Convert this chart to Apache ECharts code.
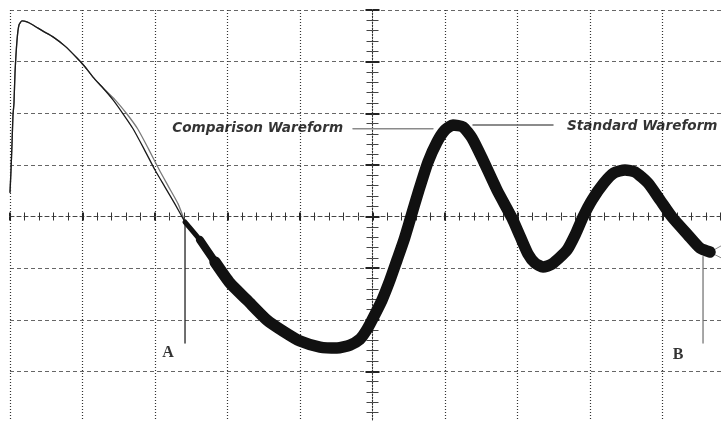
<!DOCTYPE html>
<html><head><meta charset="utf-8">
<script src="https://cdn.jsdelivr.net/npm/echarts@6/dist/echarts.min.js"></script>
<style>html,body{margin:0;padding:0;background:#fff}#c{width:721px;height:421px}</style>
</head><body><div id="c"></div>
<script>
// Oscilloscope waveforms, x in divisions from screen centre, y in divisions
const standardLead = [
  [-5.000,0.47],[-4.986,0.90],[-4.972,1.42],[-4.959,1.96],[-4.945,2.20],[-4.931,2.78],
  [-4.903,3.42],[-4.876,3.71],[-4.834,3.79],[-4.766,3.77],[-4.683,3.71],[-4.545,3.59],
  [-4.407,3.48],[-4.241,3.30],[-4.076,3.07],[-3.966,2.90],[-3.855,2.70],[-3.717,2.49],
  [-3.579,2.26],[-3.441,1.99],[-3.303,1.70],[-3.152,1.31],[-3.000,0.90],[-2.862,0.57],
  [-2.724,0.24],[-2.586,-0.11]
];
const comparisonLead = [
  [-5.000,0.47],[-4.986,0.90],[-4.972,1.42],[-4.959,1.96],[-4.945,2.20],[-4.931,2.78],
  [-4.903,3.42],[-4.876,3.71],[-4.834,3.79],[-4.766,3.77],[-4.683,3.71],[-4.545,3.59],
  [-4.407,3.48],[-4.241,3.30],[-4.076,3.07],[-3.966,2.90],[-3.855,2.70],[-3.717,2.49],
  [-3.550,2.26],[-3.390,1.99],[-3.240,1.70],[-3.090,1.31],[-2.940,0.90],[-2.810,0.57],
  [-2.680,0.24],[-2.586,-0.11]
];
const bandNarrow = [[-2.586,-0.107],[-2.379,-0.455],[-2.172,-0.882]];
const bandMid = [[-2.379,-0.455],[-2.172,-0.882],[-1.966,-1.289],[-1.731,-1.618]];
const bandMain = [
  [-2.172,-0.882],[-1.966,-1.289],[-1.731,-1.618],[-1.455,-2.006],[-1.234,-2.219],
  [-1.000,-2.413],[-0.724,-2.529],[-0.490,-2.548],[-0.310,-2.490],[-0.172,-2.374],
  [-0.090,-2.219],[-0.007,-2.006],[0.131,-1.618],[0.241,-1.231],[0.338,-0.843],
  [0.434,-0.455],[0.517,-0.068],[0.641,0.514],[0.766,1.056],[0.890,1.444],
  [1.000,1.676],[1.110,1.773],[1.248,1.734],[1.372,1.521],[1.524,1.095],
  [1.717,0.514],[1.924,-0.029],[2.034,-0.378],[2.145,-0.727],[2.241,-0.901],
  [2.352,-0.979],[2.476,-0.921],[2.683,-0.649],[2.807,-0.320],[2.903,-0.010],
  [3.028,0.320],[3.193,0.649],[3.331,0.843],[3.483,0.901],[3.621,0.862],
  [3.800,0.649],[3.966,0.320],[4.131,-0.010],[4.352,-0.359],[4.517,-0.610],[4.655,-0.688]
];
const tailUpper = [[4.655,-0.69],[4.807,-0.57]];
const tailLower = [[4.655,-0.69],[4.807,-0.80]];
const markerA = [[-2.586,-0.11],[-2.586,-2.45]];
const markerB = [[4.559,-0.78],[4.559,-2.45]];
const pointLabels = [[-2.82,-2.64,'A'],[4.214,-2.68,'B']];
const comparisonLeader = [[-0.269,1.70],[0.834,1.70]];
const standardLeader = [[1.386,1.77],[2.490,1.77]];
const waveLabels = [[-0.406,1.70,'Comparison Wareform','right'],[2.683,1.75,'Standard Wareform','left']];

const chart = echarts.init(document.getElementById('c'), null, {renderer:'canvas'});
const xCommon = {type:'value',min:-5,max:5,interval:1,axisLabel:{show:false},
  axisLine:{show:true,onZero:true,lineStyle:{color:'#444',width:1,type:[4,3]}},
  axisTick:{show:true,length:4,lineStyle:{color:'#222',width:2}},
  minorTick:{show:true,splitNumber:5,length:4,lineStyle:{color:'#333',width:1}}};
const yCommon = {type:'value',min:-4,max:4,interval:1,axisLabel:{show:false},
  axisLine:{show:true,onZero:true,lineStyle:{color:'#333',width:1,type:[1,2]}},
  axisTick:{show:true,length:7,lineStyle:{color:'#222',width:2}},
  minorTick:{show:true,splitNumber:5,length:6,lineStyle:{color:'#444',width:1}}};
const lineS = (data,color,width,z,smooth)=>({type:'line',data,showSymbol:false,symbol:'none',silent:true,
  smooth:smooth||false,smoothMonotone:'none',
  xAxisIndex:0,yAxisIndex:0,z:z||3,lineStyle:{color,width,join:'round',cap:'round'},animation:false});
chart.setOption({
  animation:false,
  backgroundColor:'#fff',
  grid:{left:10,top:10,width:725,height:413,containLabel:false,outerBoundsMode:'none'},
  xAxis:[
    Object.assign({},xCommon,{position:'bottom',splitLine:{show:true,lineStyle:{color:'#333',width:1.2,type:[1,2]}}}),
    Object.assign({},xCommon,{position:'top',splitLine:{show:false},axisLine:{show:false,onZero:true}})
  ],
  yAxis:[
    Object.assign({},yCommon,{position:'left',splitLine:{show:true,lineStyle:{color:'#666',width:1,type:[4,3]}}}),
    Object.assign({},yCommon,{position:'right',splitLine:{show:false},axisLine:{show:false,onZero:true}})
  ],
  series:[
    lineS(comparisonLead,'#7a7a7a',1.3,3,0.2),
    lineS(standardLead,'#1a1a1a',1.3,4,0.2),
    lineS(bandNarrow,'#111',5,5,0.2),
    lineS(bandMid,'#111',8,5,0.2),
    lineS(bandMain,'#111',11.5,5,0.2),
    lineS(tailUpper,'#888',1,4),
    lineS(tailLower,'#888',1,4),
    lineS(markerA,'#222',1.3,4),
    lineS(markerB,'#777',1.3,4),
    lineS(comparisonLeader,'#8a8a8a',1.5,2),
    lineS(standardLeader,'#666',1.5,2),
    {type:'scatter',data:pointLabels,symbolSize:0,silent:true,z:6,
      label:{show:true,position:'inside',formatter:p=>p.data[2],color:'#000',
        fontFamily:'Liberation Serif',fontSize:16,fontWeight:'bold'}},
    {type:'scatter',silent:true,z:6,symbolSize:0,
      data:waveLabels.map(d=>({value:[d[0],d[1]],name:d[2],
        label:{show:true,position:'inside',align:d[3],formatter:d[2]}})),
      label:{show:true,color:'#000',fontFamily:'DejaVu Sans',fontSize:13.6,
        fontStyle:'italic',fontWeight:'bold'}}
  ]
});
</script></body></html>
